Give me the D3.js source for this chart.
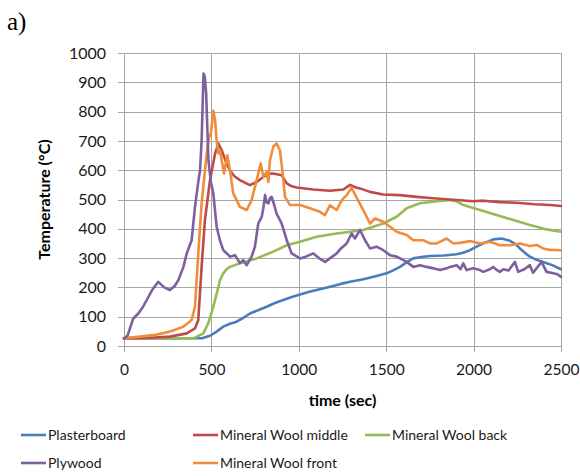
<!DOCTYPE html>
<html>
<head>
<meta charset="utf-8">
<script src="https://cdn.jsdelivr.net/npm/d3@7/dist/d3.min.js"></script>
<style>
  html, body { margin: 0; padding: 0; background: #fff; }
  svg { display: block; }
</style>
</head>
<body>
<script>
// Temperature histories [time (s), temperature (°C)] for each layer
const plasterboard = [[0,26],[450,27],[492,35],[530,49],[568,66],[606,76],[644,83],[680,95],[721,111],[770,123],[816,134],[860,146],[911,157],[960,167],[1007,176],[1055,184],[1102,191],[1150,198],[1197,205],[1240,212],[1293,219],[1369,228],[1440,238],[1502,248],[1540,258],[1579,270],[1620,287],[1655,299],[1700,304],[1750,307],[1830,309],[1903,313],[1940,318],[1979,327],[2020,340],[2055,350],[2112,364],[2160,367],[2208,359],[2240,348],[2265,333],[2300,315],[2322,305],[2360,294],[2398,287],[2450,276],[2500,262]];

const mwMiddle = [[0,26],[150,28],[263,32],[359,43],[406,60],[425,89],[444,270],[463,430],[492,566],[521,657],[540,691],[559,668],[587,623],[606,600],[630,580],[663,566],[720,549],[759,560],[797,577],[830,588],[854,589],[902,583],[931,555],[960,545],[988,541],[1083,534],[1178,530],[1255,534],[1293,550],[1331,540],[1350,538],[1407,526],[1483,517],[1579,515],[1674,509],[1769,504],[1865,500],[1998,494],[2055,496],[2150,491],[2246,489],[2350,484],[2437,481],[2500,478]];

const mwBack = [[0,26],[400,27],[454,43],[482,77],[511,134],[540,202],[549,225],[568,248],[587,262],[606,270],[663,282],[759,299],[854,322],[931,344],[1007,356],[1102,373],[1197,382],[1293,390],[1369,396],[1483,418],[1560,441],[1617,470],[1693,487],[1789,494],[1855,498],[1903,494],[1941,481],[2036,464],[2131,447],[2227,430],[2322,413],[2418,398],[2500,390]];

const plywood = [[0,26],[20,35],[53,94],[82,111],[110,135],[130,157],[160,190],[196,219],[230,200],[263,191],[290,205],[311,225],[340,270],[359,316],[387,361],[406,475],[425,560],[435,600],[444,700],[455,930],[462,920],[470,862],[483,634],[497,560],[511,521],[530,407],[549,360],[568,327],[590,315],[606,305],[635,310],[663,283],[682,293],[702,276],[730,305],[749,339],[768,418],[788,441],[797,470],[807,515],[816,490],[826,487],[835,505],[845,509],[860,480],[873,452],[902,418],[931,361],[959,316],[1007,299],[1040,305],[1083,316],[1115,300],[1150,287],[1180,300],[1217,316],[1236,330],[1274,350],[1302,384],[1321,367],[1350,396],[1379,361],[1407,333],[1445,339],[1483,327],[1522,310],[1560,305],[1617,287],[1655,270],[1693,276],[1731,270],[1770,265],[1808,259],[1846,265],[1865,270],[1903,276],[1925,262],[1941,282],[1960,259],[1998,265],[2036,259],[2055,253],[2093,262],[2112,270],[2131,260],[2150,253],[2170,262],[2200,258],[2236,287],[2255,253],[2290,262],[2322,276],[2340,250],[2389,287],[2417,253],[2456,248],[2480,245],[2500,236]];

const mwFront = [[0,26],[168,37],[263,49],[339,66],[387,89],[406,134],[425,316],[444,487],[473,657],[488,720],[495,717],[511,803],[521,772],[530,702],[540,657],[549,668],[572,589],[591,651],[606,600],[625,521],[635,509],[663,475],[702,464],[730,498],[759,566],[782,623],[797,577],[816,594],[826,560],[835,634],[854,680],[873,691],[892,668],[908,589],[921,509],[950,481],[1007,481],[1064,470],[1121,458],[1150,447],[1178,480],[1217,464],[1236,487],[1255,504],[1274,515],[1302,540],[1331,506],[1369,464],[1407,418],[1436,435],[1483,424],[1522,407],[1560,390],[1617,379],[1655,361],[1712,361],[1750,350],[1789,350],[1846,367],[1884,350],[1922,352],[1979,358],[2036,350],[2093,356],[2150,344],[2207,344],[2265,350],[2322,341],[2360,345],[2398,333],[2437,328],[2500,327]];

const seriesNames = ["Plasterboard", "Mineral Wool middle", "Mineral Wool back", "Plywood", "Mineral Wool front"];
const seriesColors = ["#4A7EBB", "#BE4B48", "#98B954", "#7D60A0", "#F08C3A"];
const seriesData = [plasterboard, mwMiddle, mwBack, plywood, mwFront];
// drawing order so the later-listed lines sit on top
const drawOrder = [0, 2, 1, 4, 3];

const xTicks = [0, 500, 1000, 1500, 2000, 2500];
const yTicks = [0, 100, 200, 300, 400, 500, 600, 700, 800, 900, 1000];

const W = 580, H = 476;
const plot = { left: 124, top: 53, right: 561, bottom: 346 };

const svg = d3.select("body").append("svg").attr("width", W).attr("height", H);

const x = d3.scaleLinear().domain([0, 2500]).range([plot.left, plot.right]);
const y = d3.scaleLinear().domain([0, 1000]).range([plot.bottom, plot.top]);

const gridColor = "#A6A6A6";
const font = "Lato, 'Open Sans', sans-serif";
const fmt = d3.format("d");

// horizontal grid
svg.append("g").attr("transform", `translate(${plot.left},0)`)
  .call(d3.axisLeft(y).tickValues(yTicks).tickSize(-(plot.right - plot.left)).tickFormat(""))
  .call(g => g.select(".domain").remove())
  .call(g => g.selectAll("line").attr("stroke", gridColor).attr("stroke-width", 1).attr("shape-rendering", "crispEdges"));

// vertical grid
svg.append("g").attr("transform", `translate(0,${plot.bottom})`)
  .call(d3.axisBottom(x).tickValues(xTicks).tickSize(-(plot.bottom - plot.top)).tickFormat(""))
  .call(g => g.select(".domain").remove())
  .call(g => g.selectAll("line").attr("stroke", gridColor).attr("stroke-width", 1).attr("shape-rendering", "crispEdges"));

// y axis with outward ticks
svg.append("g").attr("transform", `translate(${plot.left},0)`)
  .call(d3.axisLeft(y).tickValues(yTicks).tickFormat(fmt).tickSize(6).tickPadding(12))
  .call(g => g.select(".domain").attr("stroke", gridColor).attr("shape-rendering", "crispEdges")
     .attr("d", `M0,${plot.top}V${plot.bottom + 6}`))
  .call(g => g.selectAll("line").attr("stroke", gridColor).attr("shape-rendering", "crispEdges"))
  .call(g => g.selectAll("text").attr("font-family", font).attr("font-size", 16).attr("fill", "#1a1a1a"));

// x axis with outward ticks
svg.append("g").attr("transform", `translate(0,${plot.bottom})`)
  .call(d3.axisBottom(x).tickValues(xTicks).tickFormat(fmt).tickSize(6).tickPadding(12))
  .call(g => g.select(".domain").attr("stroke", gridColor).attr("shape-rendering", "crispEdges")
     .attr("d", `M${plot.left},0H${plot.right}`))
  .call(g => g.selectAll("line").attr("stroke", gridColor).attr("shape-rendering", "crispEdges"))
  .call(g => g.selectAll("text").attr("font-family", font).attr("font-size", 15.5).attr("fill", "#1a1a1a"))
  .call(g => g.selectAll(".tick").filter(d => d === 2500).select("text")
     .attr("text-anchor", "end").attr("x", 579 - plot.right));

// series lines
const line = d3.line().x(d => x(d[0])).y(d => y(d[1])).curve(d3.curveLinear);
svg.append("g").selectAll("path").data(drawOrder).join("path")
  .attr("d", i => line(seriesData[i]))
  .attr("fill", "none")
  .attr("stroke", i => seriesColors[i])
  .attr("stroke-width", 2.6)
  .attr("stroke-linejoin", "round")
  .attr("stroke-linecap", "round");

// axis titles
svg.append("text")
  .attr("x", (plot.left + plot.right) / 2).attr("y", 406)
  .attr("text-anchor", "middle")
  .attr("font-family", font).attr("font-weight", "bold").attr("font-size", 16)
  .text("time (sec)");

svg.append("text")
  .attr("transform", `translate(50,${(plot.top + plot.bottom) / 2}) rotate(-90)`)
  .attr("text-anchor", "middle")
  .attr("font-family", font).attr("font-weight", "bold").attr("font-size", 16)
  .text("Temperature (°C)");

// panel label
svg.append("text")
  .attr("x", 7).attr("y", 30)
  .attr("font-family", "'Liberation Serif', 'Times New Roman', serif").attr("font-size", 25)
  .text("a)");

// legend
const legendPos = [[21, 435], [193, 435], [365, 435], [21, 463], [193, 463]];
const legend = svg.append("g").selectAll("g").data(seriesNames).join("g")
  .attr("transform", (d, i) => `translate(${legendPos[i][0]},${legendPos[i][1]})`);
legend.append("line")
  .attr("x1", 0).attr("x2", 25).attr("y1", 0).attr("y2", 0)
  .attr("stroke", (d, i) => seriesColors[i]).attr("stroke-width", 2.6);
legend.append("text")
  .attr("x", 27).attr("y", 0).attr("dy", "0.35em")
  .attr("font-family", font).attr("font-size", 14).attr("fill", "#1a1a1a")
  .text(d => d);
</script>
</body>
</html>
